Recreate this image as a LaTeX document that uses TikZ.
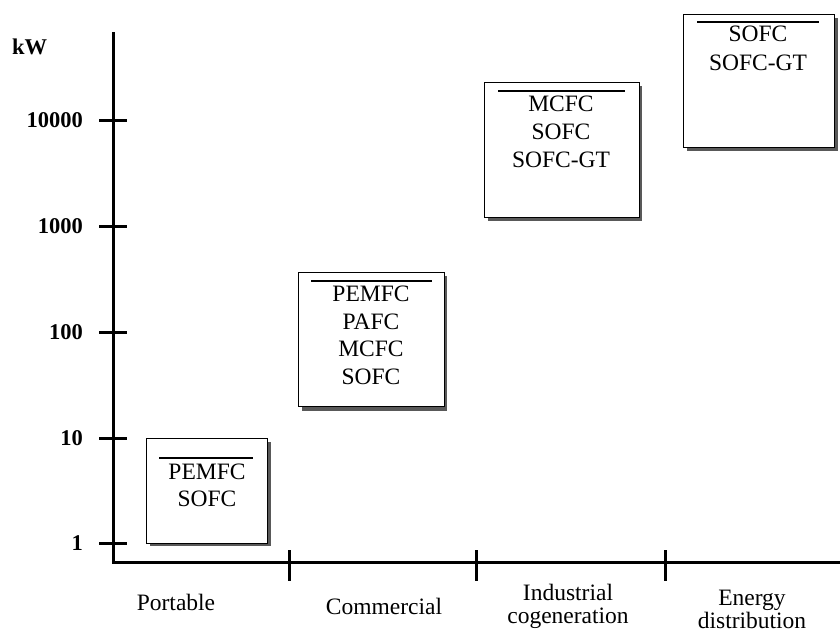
\documentclass[tikz,border=0pt]{standalone}
\usepackage{fontspec}
\setmainfont{Liberation Serif}
\begin{document}
\begin{tikzpicture}[x=1pt,y=-1pt,
  axis/.style={line width=3pt},
  tickline/.style={line width=3pt},
  fcbox/.style={draw=black,line width=1.4pt,fill=white,inner sep=0pt,anchor=north west},
  shadow/.style={fill=black!65},
  bar/.style={line width=1.6pt},
  fctext/.style={font=\fontsize{23.5}{26}\selectfont,inner sep=0pt},
  ylab/.style={font=\bfseries\fontsize{22.5}{24}\selectfont,anchor=east,inner sep=0pt},
  xlab/.style={font=\fontsize{23.5}{23}\selectfont,align=center,inner sep=0pt}
]
\useasboundingbox (0,0) rectangle (840,633);
% axes
\coordinate (top) at (113,32);
\coordinate (orig) at (113,562);
\coordinate (right) at (840,562);
\draw[axis] (top) -- (orig) -- (right);
% y ticks and labels
\foreach \yy/\lab/\nm in {543/1/t1,438/10/t2,332/100/t3,226/1000/t4,120/10000/t5}{
  \coordinate (\nm a) at (99,\yy);
  \coordinate (\nm b) at (127,\yy);
  \draw[tickline] (\nm a) -- (\nm b);
  \node[ylab] (\nm l) at (83,\yy) {\lab};
}
\node[font=\bfseries\fontsize{22.5}{24}\selectfont,anchor=west,inner sep=0pt] (kw) at (12,47) {kW};
% x ticks
\foreach \xx/\nm in {289/x1,476/x2,665/x3}{
  \coordinate (\nm a) at (\xx,550);
  \coordinate (\nm b) at (\xx,581);
  \draw[tickline] (\nm a) -- (\nm b);
}
% category labels
\node[xlab] (c1) at (176,602) {Portable};
\node[xlab] (c2) at (384,606) {Commercial};
\node[xlab] (c3) at (568,606) {Industrial\\cogeneration};
\node[xlab] (c4) at (752,609) {Energy\\distribution};
% box 1
\fill[shadow] (150,442) rectangle (271,546);
\node[fcbox,minimum width=121pt,minimum height=105pt] (b1) at (146,438) {};
\draw[bar] (159,458) -- (253,458);
\node[fctext] (b1a) at (207,472) {PEMFC};
\node[fctext] (b1b) at (207,499) {SOFC};
% box 2
\fill[shadow] (302,276) rectangle (447,411);
\node[fcbox,minimum width=146pt,minimum height=134pt] (b2) at (298,272) {};
\draw[bar] (311,281) -- (432,281);
\node[fctext] (b2a) at (371,294) {PEMFC};
\node[fctext] (b2b) at (371,322) {PAFC};
\node[fctext] (b2c) at (371,349) {MCFC};
\node[fctext] (b2d) at (371,377) {SOFC};
% box 3
\fill[shadow] (488,86) rectangle (642,221);
\node[fcbox,minimum width=155pt,minimum height=135pt] (b3) at (484,82) {};
\draw[bar] (498,91) -- (625,91);
\node[fctext] (b3a) at (561,104) {MCFC};
\node[fctext] (b3b) at (561,132) {SOFC};
\node[fctext] (b3c) at (561,160) {SOFC-GT};
% box 4
\fill[shadow] (687,18) rectangle (838,151);
\node[fcbox,minimum width=151pt,minimum height=133pt] (b4) at (683,14) {};
\draw[bar] (697,22) -- (819,22);
\node[fctext] (b4a) at (758,34) {SOFC};
\node[fctext] (b4b) at (758,63) {SOFC-GT};
\end{tikzpicture}
\end{document}
